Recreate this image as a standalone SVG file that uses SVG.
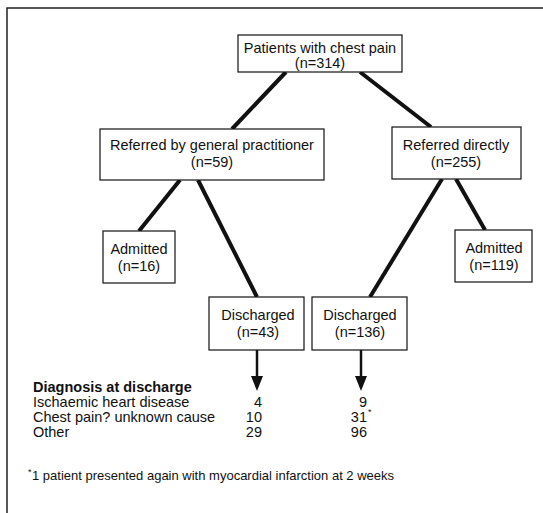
<svg xmlns="http://www.w3.org/2000/svg" width="543" height="513" viewBox="0 0 543 513">
<defs>
<style>
.box{fill:#fff;stroke:#111;stroke-width:1.2}
.t{font-family:"Liberation Sans",Arial,Helvetica,sans-serif;font-size:14.5px;fill:#111}
.c{text-anchor:middle}
.r{text-anchor:end}
.b{font-weight:bold}
.fn{font-size:13px}
.sup{font-size:9px}
.con{stroke:#111;stroke-width:4;fill:none}
.arr{stroke:#111;stroke-width:2.5;fill:none}
</style>
</defs>
<rect width="543" height="513" fill="#fff"/>
<g id="frame"><path d="M7,513 L7,8 L543,8" stroke="#222" stroke-width="1.5" fill="none"/></g>
<g id="connectors">
<line class="con" x1="286" y1="72" x2="232" y2="129"/>
<line class="con" x1="360" y1="72" x2="431" y2="127"/>
<line class="con" x1="180" y1="180" x2="139" y2="231"/>
<line class="con" x1="198" y1="180" x2="257" y2="297"/>
<line class="con" x1="442" y1="179" x2="370" y2="297"/>
<line class="con" x1="456" y1="179" x2="485" y2="230"/>
<line class="arr" x1="257" y1="350" x2="257" y2="377"/>
<line class="arr" x1="361" y1="350" x2="361" y2="377"/>
<path d="M251,376 L263,376 L257,391 Z" fill="#111"/>
<path d="M355,376 L367,376 L361,391 Z" fill="#111"/>
</g>
<g id="n_top"><rect class="box" x="238" y="35" width="164" height="37"/>
<text class="t c" x="320" y="53">Patients with chest pain</text>
<text class="t c" x="320" y="68">(n=314)</text></g>
<g id="n_gp"><rect class="box" x="100" y="129" width="224" height="51"/>
<text class="t c" x="212" y="150">Referred by general practitioner</text>
<text class="t c" x="212" y="167">(n=59)</text></g>
<g id="n_direct"><rect class="box" x="392" y="127" width="129" height="52"/>
<text class="t c" x="456" y="150">Referred directly</text>
<text class="t c" x="456" y="167">(n=255)</text></g>
<g id="n_adm1"><rect class="box" x="103" y="231" width="72" height="52"/>
<text class="t c" x="139" y="254">Admitted</text>
<text class="t c" x="139" y="271">(n=16)</text></g>
<g id="n_adm2"><rect class="box" x="455" y="230" width="77" height="52"/>
<text class="t c" x="494" y="253">Admitted</text>
<text class="t c" x="494" y="270">(n=119)</text></g>
<g id="n_dis1"><rect class="box" x="209" y="297" width="95" height="53"/>
<text class="t c" x="258" y="320">Discharged</text>
<text class="t c" x="258" y="337">(n=43)</text></g>
<g id="n_dis2"><rect class="box" x="312" y="297" width="95" height="53"/>
<text class="t c" x="360" y="320">Discharged</text>
<text class="t c" x="360" y="337">(n=136)</text></g>
<g id="table">
<text class="t b" x="33" y="392">Diagnosis at discharge</text>
<text class="t" x="33" y="407">Ischaemic heart disease</text>
<text class="t" x="33" y="422">Chest pain? unknown cause</text>
<text class="t" x="33" y="437">Other</text>
<text class="t r" x="262" y="407">4</text>
<text class="t r" x="262" y="422">10</text>
<text class="t r" x="262" y="437">29</text>
<text class="t r" x="367" y="407">9</text>
<text class="t r" x="367" y="422">31</text>
<text class="t sup" x="368" y="415">*</text>
<text class="t r" x="367" y="437">96</text>
<text class="t sup" x="28" y="475">*</text>
<text class="t fn" x="32" y="480">1 patient presented again with myocardial infarction at 2 weeks</text>
</g>
</svg>
